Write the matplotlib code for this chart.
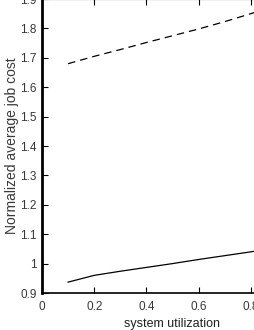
import matplotlib
matplotlib.use('Agg')
import matplotlib.pyplot as plt

plt.rcParams['font.family'] = ['Liberation Sans', 'DejaVu Sans']

util = [0.1, 0.2, 0.3, 0.4, 0.5, 0.6, 0.7, 0.8, 0.9]
cost_dashed = [1.68, 1.705, 1.728, 1.752, 1.775, 1.798, 1.823, 1.85, 1.88]
cost_solid = [0.937, 0.96, 0.974, 0.987, 1.0, 1.014, 1.027, 1.04, 1.054]

xticks = [0, 0.2, 0.4, 0.6, 0.8, 1.0]
xticklabels = ['0', '0.2', '0.4', '0.6', '0.8', '1']
yticks = [0.9, 1.0, 1.1, 1.2, 1.3, 1.4, 1.5, 1.6, 1.7, 1.8, 1.9]
yticklabels = ['0.9', '1', '1.1', '1.2', '1.3', '1.4', '1.5', '1.6', '1.7', '1.8', '1.9']

W, H = 255, 330
fig = plt.figure(figsize=(W / 100, H / 100), dpi=100)
# axes run past the right and top edge of the figure, as in the cropped original
ax = fig.add_axes([42 / W, (H - 293) / H, 261 / W, 294 / H])

ax.plot(util, cost_dashed, 'k--', lw=0.9, dashes=(6, 4))
ax.plot(util, cost_solid, 'k-', lw=0.9)

ax.set_xlim(0, 1)
ax.set_ylim(0.9, 1.9)
ax.set_xticks(xticks)
ax.set_xticklabels(xticklabels)
ax.set_yticks(yticks)
ax.set_yticklabels(yticklabels)
ax.tick_params(direction='in', length=4, width=0.8, top=True, right=True,
               labelsize=8.5, labelcolor='#383838')
ax.tick_params(axis='x', pad=6)
ax.tick_params(axis='y', pad=4)
for s in ax.spines.values():
    s.set_linewidth(0.8)
ax.spines['left'].set_linewidth(2)
ax.spines['bottom'].set_linewidth(1.2)

ax.set_xlabel('system utilization', fontsize=9, color='#202020', labelpad=3)
ax.set_ylabel('Normalized average job cost', fontsize=10, color='#383838', labelpad=1)

fig.savefig('out.png', dpi=100)
